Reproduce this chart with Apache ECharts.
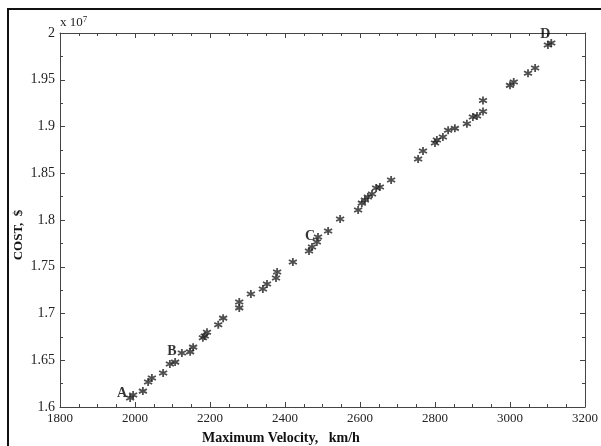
<!DOCTYPE html>
<html>
<head>
<meta charset="utf-8">
<script src="https://cdn.jsdelivr.net/npm/echarts@6/dist/echarts.min.js"></script>
<style>html,body{margin:0;padding:0;background:#fff}#c{width:601px;height:446px}</style>
</head>
<body>
<div id="c"></div>
<script>
// Maximum velocity (km/h)
const velocity = [1987,1995,2021,2035,2045,2075,2093,2107,2125,2147,2155,2181,2186,2192,2222,2235,2278,2278,2309,2341,2352,2376,2379,2421,2464,2472,2485,2488,2515,2547,2595,2605,2613,2621,2632,2643,2653,2683,2755,2768,2800,2805,2821,2835,2853,2885,2901,2912,2928,2928,3000,3010,3048,3067,3101,3110];
// Cost (x 10^7 $)
const cost = [1.6096,1.6128,1.6170,1.6267,1.6310,1.6364,1.6460,1.6480,1.6578,1.6590,1.6640,1.6740,1.6760,1.6800,1.6880,1.6950,1.7060,1.7123,1.7209,1.7262,1.7316,1.7380,1.7444,1.7551,1.7668,1.7711,1.7765,1.7818,1.7882,1.8010,1.8107,1.8180,1.8214,1.8246,1.8278,1.8342,1.8353,1.8428,1.8652,1.8738,1.8824,1.8856,1.8888,1.8960,1.8980,1.9030,1.9102,1.9112,1.9160,1.9278,1.9440,1.9476,1.9570,1.9626,1.9872,1.9893];
// Labelled designs
const markNames = ['A','B','C','D'];
const markVelocity = [1987,2125,2488,3110];
const markCost = [1.6096,1.6578,1.7818,1.9893];
const xTicks = [1800,2000,2200,2400,2600,2800,3000,3200];
const yTicks = [1.6,1.65,1.7,1.75,1.8,1.85,1.9,1.95,2];

const FONT = '"Liberation Serif", "DejaVu Serif", serif';
const AX = '#444';
const chart = echarts.init(document.getElementById('c'), null, {renderer:'canvas'});

function axisCommon(pos){
  return {
    axisLine:{show:true,lineStyle:{color:AX,width:1}},
    axisTick:{show:true,inside:true,length:5,lineStyle:{color:AX}},
    minorTick:{show:true,splitNumber:pos==='y'?2:4,length:3,lineStyle:{color:AX}},
    splitLine:{show:false}
  };
}

const markOffsets = [[-8,-5],[-10,-2],[-8,-1],[-6,-9]];
const star = 'path://M0,-5L0,5M-4.33,-2.5L4.33,2.5M-4.33,2.5L4.33,-2.5';

chart.setOption({
  animation:false,
  backgroundColor:'#fff',
  grid:{left:60,top:33,right:16,bottom:39},
  xAxis:[
    Object.assign({type:'value',min:xTicks[0],max:xTicks[xTicks.length-1],interval:200,position:'bottom',
      axisLabel:{fontFamily:FONT,fontSize:13,color:'#222',margin:5,formatter:v=>String(v)}},axisCommon('x')),
    Object.assign({type:'value',min:xTicks[0],max:xTicks[xTicks.length-1],interval:200,position:'top',
      axisLabel:{show:false}},axisCommon('x'))
  ],
  yAxis:[
    Object.assign({type:'value',min:yTicks[0],max:yTicks[yTicks.length-1],interval:0.05,position:'left',
      axisLabel:{fontFamily:FONT,fontSize:14,color:'#222',margin:5,formatter:v=>String(+v.toFixed(2))}},axisCommon('y')),
    Object.assign({type:'value',min:yTicks[0],max:yTicks[yTicks.length-1],interval:0.05,position:'right',
      axisLabel:{show:false}},axisCommon('y'))
  ],
  series:[
    {
      type:'scatter',
      data:velocity.map((v,i)=>[v,cost[i]]),
      symbol:star,
      symbolSize:8,
      itemStyle:{color:'none',borderColor:'#222',borderWidth:1.8},
      emphasis:{disabled:true}
    },
    {
      type:'scatter',
      data:markNames.map((n,i)=>({name:n,value:[markVelocity[i],markCost[i]],
        label:{offset:markOffsets[i]}})),
      symbolSize:0,
      label:{show:true,formatter:p=>p.name,position:'inside',fontFamily:FONT,fontWeight:'bold',fontSize:14,color:'#000'},
      emphasis:{disabled:true}
    }
  ],
  graphic:[
    {type:'rect',shape:{x:8,y:9,width:620,height:460},style:{fill:'none',stroke:'#111',lineWidth:2},silent:true},
    {type:'text',left:60,top:15,style:{text:'{a|x 10}{b|7}',rich:{a:{fontFamily:FONT,fontSize:13,fill:'#222'},b:{fontFamily:FONT,fontSize:9,fill:'#222',verticalAlign:'top',padding:[0,0,6,0]}}}},
    {type:'text',x:19,y:235,rotation:Math.PI/2,style:{text:'COST,  $',font:'bold 13px '+FONT,fill:'#111',align:'center',verticalAlign:'middle'}},
    {type:'text',x:281,y:438,style:{text:'Maximum Velocity,   km/h',font:'bold 14px '+FONT,fill:'#111',align:'center',verticalAlign:'middle'}}
  ]
});
</script>
</body>
</html>
